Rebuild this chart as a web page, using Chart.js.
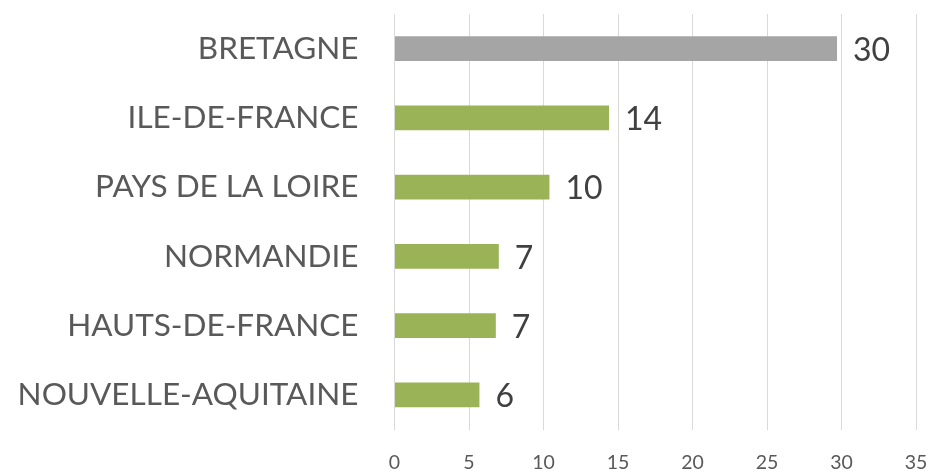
<!DOCTYPE html>
<html>
<head>
<meta charset="utf-8">
<script src="https://cdn.jsdelivr.net/npm/chart.js@4"></script>
<style>
  html, body { margin: 0; padding: 0; background: #fff; }
  #wrap { width: 933px; height: 471px; }
</style>
</head>
<body>
<div id="wrap"><canvas id="chart" width="933" height="471"></canvas></div>
<script>
const regions = ['BRETAGNE', 'ILE-DE-FRANCE', 'PAYS DE LA LOIRE', 'NORMANDIE', 'HAUTS-DE-FRANCE', 'NOUVELLE-AQUITAINE'];
const values = [29.7, 14.4, 10.4, 7.0, 6.8, 5.7];
const barColors = ['#a5a5a5', '#9bb357', '#9bb357', '#9bb357', '#9bb357', '#9bb357'];
const xTicks = [0, 5, 10, 15, 20, 25, 30, 35];

const fontFamily = "Lato, 'Open Sans', sans-serif";

// value labels at the end of each bar
const valueLabels = {
    id: 'valueLabels',
    afterDatasetsDraw(chart) {
        const ctx = chart.ctx;
        const meta = chart.getDatasetMeta(0);
        ctx.save();
        ctx.font = `32px ${fontFamily}`;
        ctx.fillStyle = '#404040';
        ctx.textAlign = 'left';
        ctx.textBaseline = 'middle';
        meta.data.forEach((bar, i) => {
            ctx.fillText(Math.round(values[i]), bar.x + 16, bar.y + 2);
        });
        ctx.restore();
    }
};

new Chart(document.getElementById('chart'), {
    type: 'bar',
    data: {
        labels: regions,
        datasets: [{
            data: values,
            backgroundColor: barColors,
            borderWidth: 0,
            barPercentage: 0.36,
            categoryPercentage: 1
        }]
    },
    options: {
        indexAxis: 'y',
        responsive: false,
        animation: false,
        layout: { padding: { top: 14, right: 17, left: 0, bottom: 0 } },
        plugins: { legend: { display: false }, tooltip: { enabled: false } },
        scales: {
            x: {
                min: 0,
                max: 35,
                afterBuildTicks: s => { s.ticks = xTicks.map(v => ({ value: v })); },
                afterFit: s => {
                    s.height = 41.5;
                    s.paddingLeft = 0; s.paddingRight = 0;
                },
                border: { display: false },
                grid: { color: '#d9d9d9', lineWidth: 1, drawTicks: false },
                ticks: { color: '#595959', padding: 22, font: { family: fontFamily, size: 19.5 } }
            },
            y: {
                afterFit: s => {
                    s.width = 394.5;
                    s.paddingTop = 0; s.paddingBottom = 0;
                },
                border: { display: false },
                grid: { display: false },
                ticks: { color: '#595959', padding: 28, font: { family: fontFamily, size: 31.5 } }
            }
        }
    },
    plugins: [valueLabels]
});
</script>
</body>
</html>
